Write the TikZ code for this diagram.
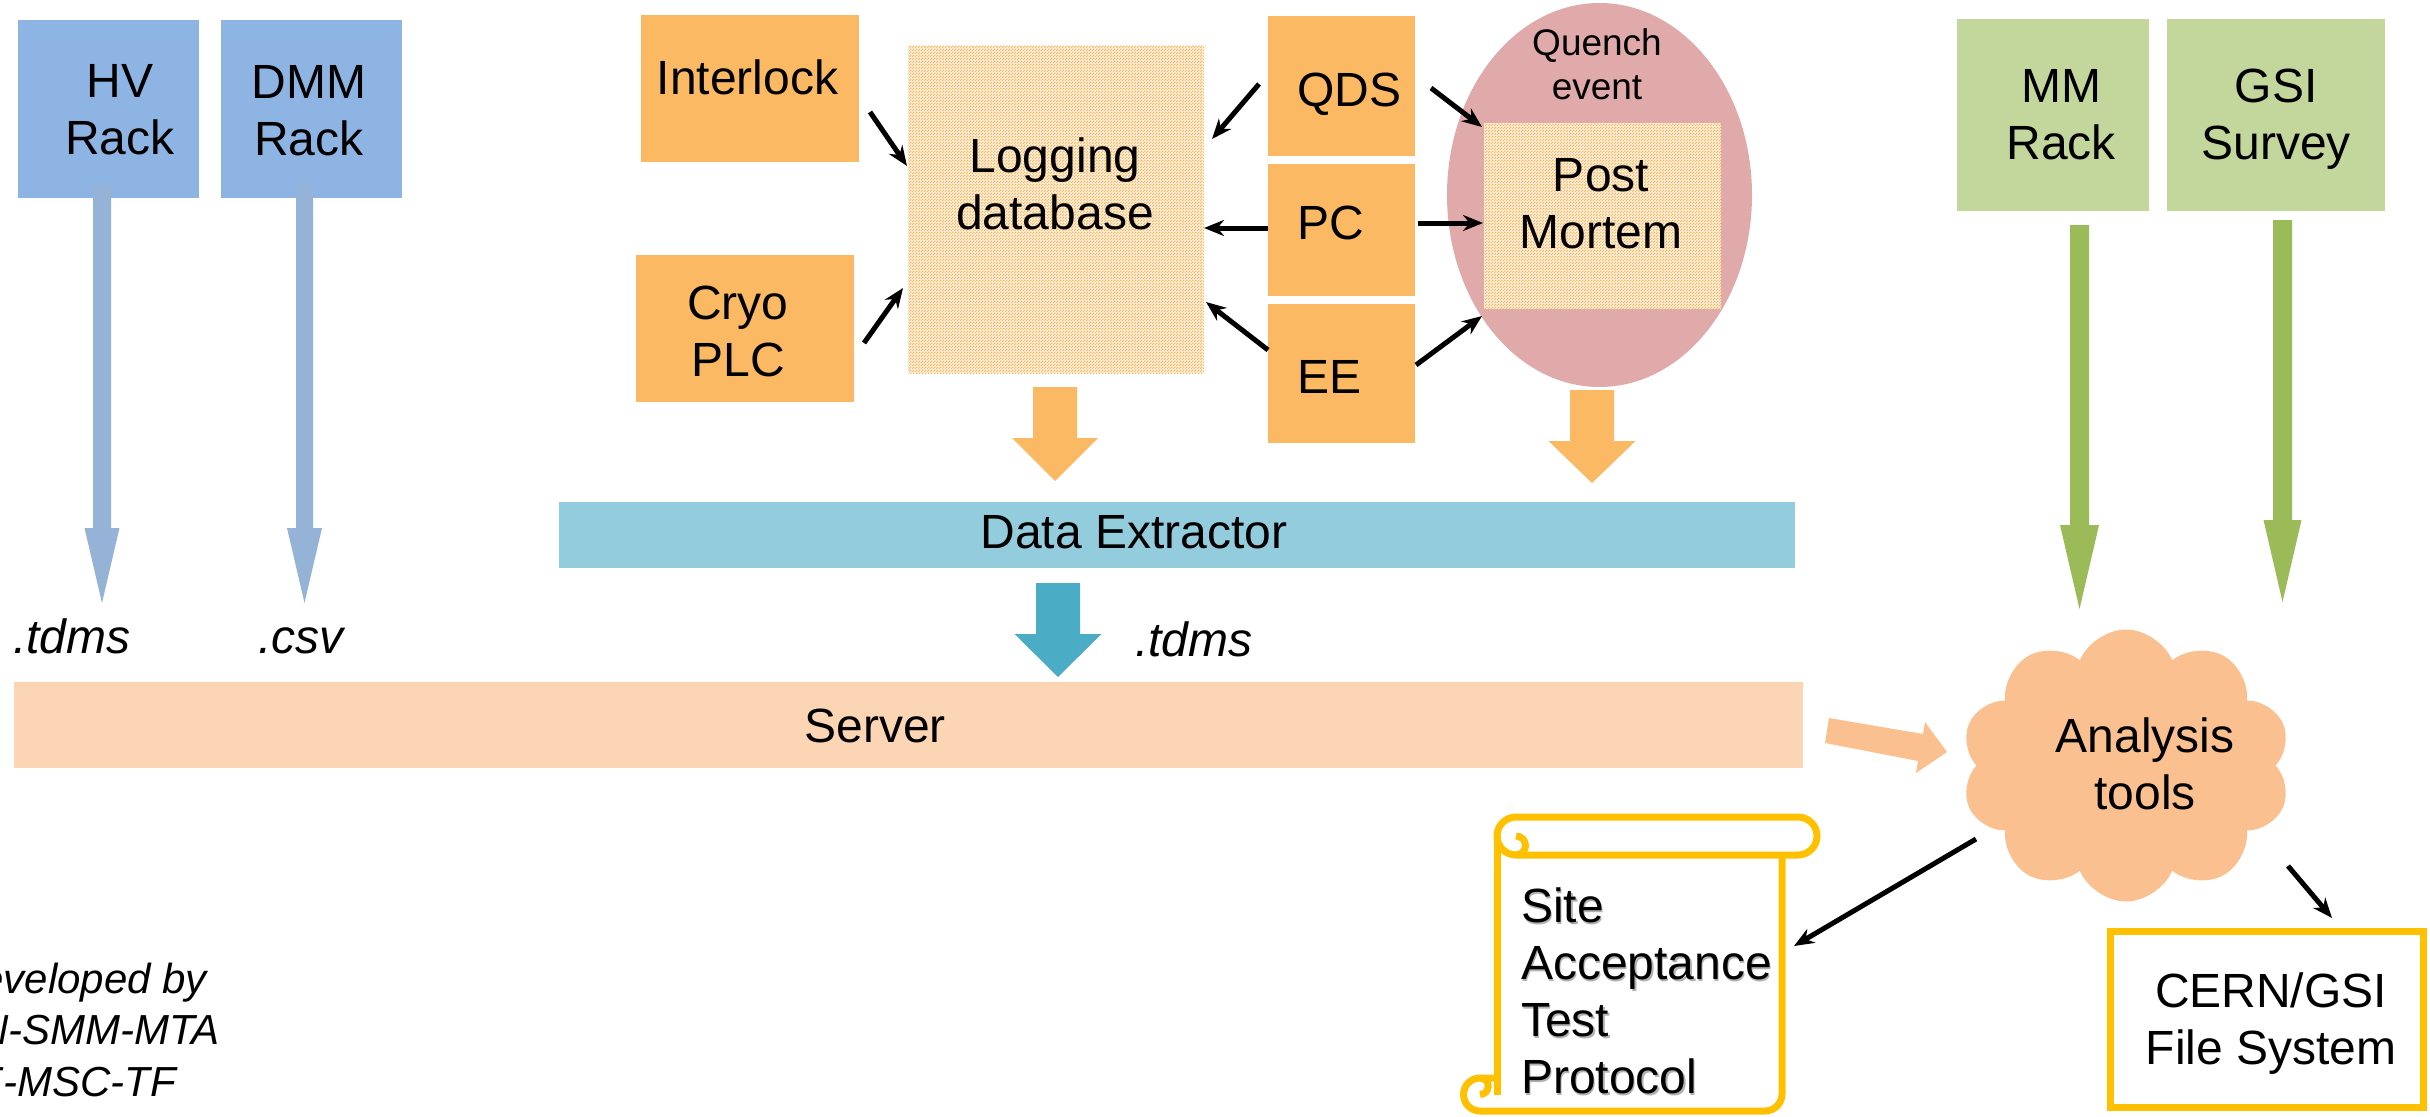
\documentclass[tikz,border=0pt]{standalone}
\usepackage{fontspec}
\setmainfont{Liberation Sans}
\usetikzlibrary{shapes.geometric,shapes.symbols,patterns,calc,arrows.meta}
\definecolor{rackblue}{HTML}{8EB4E3}
\definecolor{arrowblue}{HTML}{95B3D7}
\definecolor{boxorange}{HTML}{FCB963}
\definecolor{quenchpink}{HTML}{E1AAAA}
\definecolor{extractorblue}{HTML}{93CDDD}
\definecolor{tealarrow}{HTML}{4BACC6}
\definecolor{serverpeach}{HTML}{FCD5B5}
\definecolor{cloudpeach}{HTML}{FAC090}
\definecolor{rackgreen}{HTML}{C3D69B}
\definecolor{arrowgreen}{HTML}{9BBB59}
\definecolor{scrollyellow}{HTML}{FFC000}
\pgfdeclarepatternformonly{finedots}{\pgfqpoint{0pt}{0pt}}{\pgfqpoint{3pt}{3pt}}{\pgfqpoint{3pt}{3pt}}{%
  \pgfpathrectangle{\pgfqpoint{0pt}{0pt}}{\pgfqpoint{1.5pt}{1.5pt}}%
  \pgfpathrectangle{\pgfqpoint{1.5pt}{1.5pt}}{\pgfqpoint{1.5pt}{1.5pt}}%
  \pgfusepath{fill}}
% vertical block arrow: colour, centre x, top, head base, tip, half shaft, half head
\newcommand{\vblock}[7]{\fill[#1] ({#2-#6},#3) -- ({#2+#6},#3) -- ({#2+#6},#4) -- ({#2+#7},#4) -- (#2,#5) -- ({#2-#7},#4) -- ({#2-#6},#4) -- cycle;}
\newcommand{\txtshadow}[1]{\makebox[0pt][l]{\kern1.5pt\raisebox{-1.5pt}{\textcolor{black!30}{#1}}}#1}
\tikzset{
  fig/.style={inner sep=0pt, outer sep=0pt},
  rackbox/.style={fig, rectangle, fill=rackblue},
  greenbox/.style={fig, rectangle, fill=rackgreen},
  orangebox/.style={fig, rectangle, fill=boxorange},
  dotbox/.style={fig, rectangle, preaction={fill=boxorange!22!white}, pattern=finedots, pattern color=boxorange},
  lbl/.style={fig, font=\fontsize{48}{57}\selectfont, align=center},
  lblit/.style={fig, font=\fontsize{48}{57}\selectfont\itshape},
  blk/.style={line width=5pt, -{Stealth[length=20pt,width=16pt]}},
  scrollline/.style={draw=scrollyellow, line width=7pt, line join=round},
}
\begin{document}
\begin{tikzpicture}[x=1pt,y=-1pt]
\useasboundingbox (0,0) rectangle (2430,1116);
\clip (0,0) rectangle (2430,1116);
% racks
\node[rackbox, minimum width=181pt, minimum height=178pt] (hv) at (108.5,109) {};
\node[rackbox, minimum width=181pt, minimum height=178pt] (dmm) at (311.5,109) {};
\node[lbl, anchor=north] (hvtxt) at (120,64) {HV\\Rack};
\node[lbl, anchor=north] (dmmtxt) at (309,65) {DMM\\Rack};
\vblock{arrowblue}{102}{185}{528}{603}{9}{17.5}
\vblock{arrowblue}{304.5}{185}{528}{603}{8.5}{17.5}
\node[lblit, anchor=base west] (tdmsa) at (13,653) {.tdms};
\node[lblit, anchor=base west] (csv) at (258,653) {.csv};
% logging sources
\node[orangebox, minimum width=218pt, minimum height=147pt] (interlock) at (750,88.5) {};
\node[lbl, anchor=base] (interlocktxt) at (747.5,94) {Interlock};
\node[orangebox, minimum width=218pt, minimum height=147pt] (cryo) at (745,328.5) {};
\node[lbl, anchor=north] (cryotxt) at (738,286) {Cryo\\PLC};
\node[dotbox, minimum width=296pt, minimum height=327pt] (logdb) at (1056,209.5) {};
\node[lbl, anchor=north] (logtxt) at (1055,138) {Logging\\database};
\node[orangebox, minimum width=147pt, minimum height=140pt] (qds) at (1341.5,86) {};
\node[orangebox, minimum width=147pt, minimum height=132pt] (pc) at (1341.5,230) {};
\node[orangebox, minimum width=147pt, minimum height=139pt] (ee) at (1341.5,373.5) {};
\node[lbl, anchor=base west] (qdstxt) at (1297,106) {QDS};
\node[lbl, anchor=base west] (pctxt) at (1297,239) {PC};
\node[lbl, anchor=base west] (eetxt) at (1297,393) {EE};
% quench event
\node[fig, ellipse, fill=quenchpink, minimum width=305pt, minimum height=384pt] (quench) at (1599.5,195) {};
\node[fig, anchor=north, align=center, font=\fontsize{37}{44}\selectfont] (quenchtxt) at (1597,28.5) {Quench\\event};
\node[dotbox, minimum width=237pt, minimum height=186pt] (pm) at (1602.5,216) {};
\node[lbl, anchor=north] (pmtxt) at (1601,158) {Post\\Mortem};
\vblock{boxorange}{1055}{387}{438}{481}{22}{43}
\vblock{boxorange}{1592}{390}{441}{483}{22}{43.5}
% extractor and server
\node[fig, rectangle, fill=extractorblue, minimum width=1236pt, minimum height=66pt] (extractor) at (1177,535) {};
\node[lbl, anchor=base] (extractortxt) at (1134,548) {Data Extractor};
\vblock{tealarrow}{1058}{583}{634}{677}{22}{43.5}
\node[lblit, anchor=base west] (tdmsb) at (1135,656) {.tdms};
\node[fig, rectangle, fill=serverpeach, minimum width=1789pt, minimum height=86pt] (server) at (908.5,725) {};
\node[lbl, anchor=base] (servertxt) at (875,742) {Server};
% survey racks
\node[greenbox, minimum width=192pt, minimum height=192pt] (mm) at (2053,115) {};
\node[greenbox, minimum width=218pt, minimum height=192pt] (gsi) at (2276,115) {};
\node[lbl, anchor=north] (mmtxt) at (2061,69) {MM\\Rack};
\node[lbl, anchor=north] (gsitxt) at (2276,69) {GSI\\Survey};
\vblock{arrowgreen}{2079.5}{225}{525}{609}{9.5}{19.5}
\vblock{arrowgreen}{2282.5}{220}{520}{602}{9.5}{19}
% analysis
\node[fig, cloud, cloud puffs=10, cloud puff arc=135, aspect=1.2, fill=cloudpeach, minimum width=330pt, minimum height=272pt] (tools) at (2126,765.5) {};
\node[lbl, anchor=north] (toolstxt) at (2145,718) {Analysis\\tools};
\fill[cloudpeach] (1829,718) -- (1923,734) -- (1925,722) -- (1947,752) -- (1916,773) -- (1918,761) -- (1825,743) -- cycle;
% scroll (site acceptance test protocol)
\draw[scrollline] (1516,817) -- (1798,817) arc[start angle=-90,end angle=90,radius=19] -- (1516,855) arc[start angle=90,end angle=270,radius=19] -- cycle;
\draw[scrollline] (1516,855) arc[start angle=90,end angle=-90,radius=9.5];
\draw[scrollline] (1497,836) -- (1497,1094.5);
\draw[scrollline] (1782,855) -- (1782,1094) arc[start angle=0,end angle=90,radius=17] -- (1480,1111) arc[start angle=90,end angle=270,radius=16.5] -- (1497,1078);
\draw[scrollline] (1480,1078) arc[start angle=-90,end angle=90,radius=8.25];
\coordinate (satend) at (1794,946);
\node[fig, anchor=north west, align=left, font=\fontsize{48}{57}\selectfont] (sattxt) at (1521,888) {\txtshadow{Site}\\\txtshadow{Acceptance}\\\txtshadow{Test}\\\txtshadow{Protocol}};
% file system
\node[fig, rectangle, draw=scrollyellow, line width=7pt, fill=white, minimum width=313pt, minimum height=176pt] (cern) at (2267,1019.5) {};
\node[lbl, anchor=north] (cerntxt) at (2271,973) {CERN/GSI\\File System};
% credits
\node[fig, anchor=north west, align=left, font=\fontsize{42}{51.5}\selectfont\itshape] (credit) at (-50,963) {Developed by\\EN-SMM-MTA\\TE-MSC-TF};
% connectors
\draw[blk] ($(interlock.east)+(11,23.5)$) -- ($(logdb.west)+(-1,-43.5)$);
\draw[blk] ($(cryo.east)+(10,14.5)$) -- ($(logdb.west)+(-5,78.5)$);
\draw[blk] ($(qds.west)+(-9,-2)$) -- ($(logdb.east)+(8,-70.5)$);
\draw[blk] ($(pc.west)+(0,-2)$) -- ($(logdb.east)+(0,18.5)$);
\draw[blk] ($(ee.west)+(0,-23.5)$) -- ($(logdb.east)+(2,92.5)$);
\draw[blk] ($(qds.east)+(16,2)$) -- ($(pm.west)+(-2,-89)$);
\draw[blk] ($(pc.east)+(3,-7)$) -- ($(pm.west)+(-1,7)$);
\draw[blk] ($(ee.east)+(1,-8.5)$) -- ($(pm.west)+(-2,100)$);
\draw[blk] ($(tools.center)+(-150,73.5)$) -- (satend);
\draw[blk] ($(tools.center)+(162,100.5)$) -- ($(cern.north)+(65,-13.5)$);
\end{tikzpicture}
\end{document}
